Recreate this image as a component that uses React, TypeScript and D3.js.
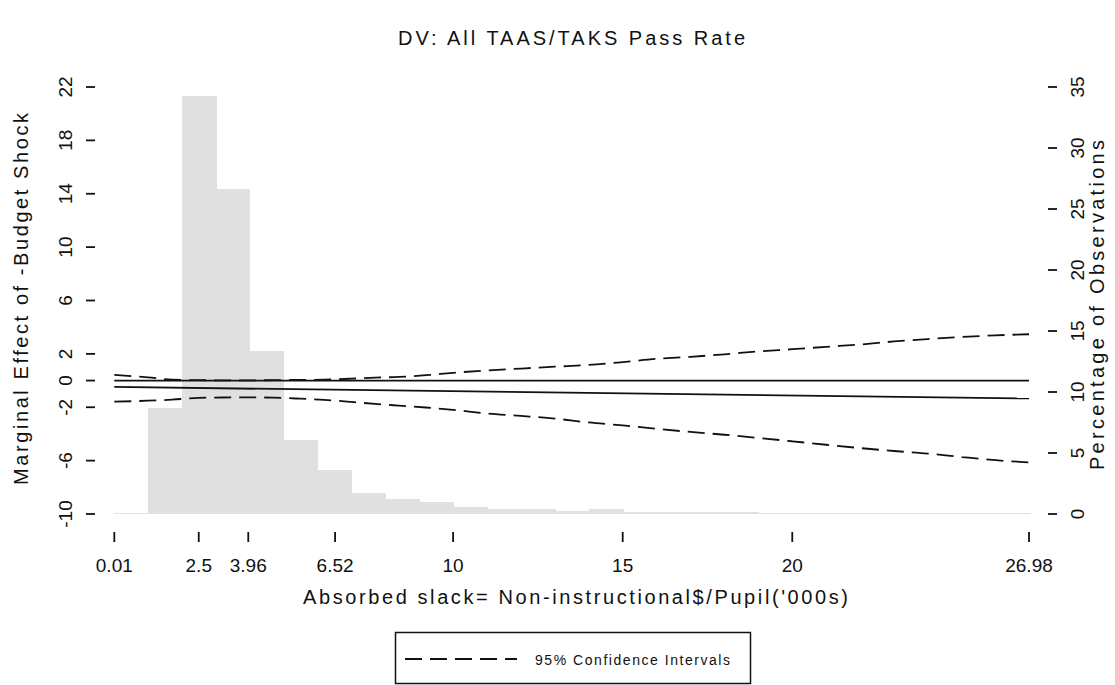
import React from "react";
import * as d3 from "d3";

// Histogram of the moderator (percent of observations per unit-wide bin, starting at 0.01)
const binStarts = [0.01, 1.01, 2.01, 3.01, 4.01, 5.01, 6.01, 7.01, 8.01, 9.01, 10.01, 11.01, 12.01, 13.01,
  14.01, 15.01, 16.01, 17.01, 18.01, 19.01, 20.01, 21.01, 22.01, 23.01, 24.01, 25.01, 26.01];
const binPercents = [0.1, 8.65, 34.3, 26.6, 13.4, 6.1, 3.6, 1.7, 1.2, 0.95, 0.6, 0.45, 0.45, 0.23,
  0.4, 0.2, 0.2, 0.2, 0.2, 0.08, 0.08, 0.08, 0.08, 0.08, 0.08, 0.08, 0.08];
const binWidth = 1;

// Marginal effect (linear in the moderator) at the ends of the observed range
const meX = [0.01, 26.98];
const meY = [-0.48, -1.34];

// 95% confidence bounds of the marginal effect
const ciX = [0.01, 1.0, 1.71, 2.5, 3.2, 3.95, 4.7, 5.5, 6.2, 7.0, 7.7, 8.4, 9.2, 10.0, 11.0, 12.0, 13.0,
  14.0, 15.0, 16.0, 17.0, 18.0, 19.0, 20.0, 21.0, 22.0, 23.0, 24.0, 25.0, 26.0, 26.98];
const ciUpper = [0.42, 0.24, 0.07, 0.03, 0.02, 0.02, 0.03, 0.05, 0.07, 0.14, 0.22, 0.27, 0.4, 0.58, 0.76,
  0.9, 1.04, 1.17, 1.38, 1.63, 1.78, 1.97, 2.18, 2.35, 2.53, 2.7, 2.93, 3.11, 3.27, 3.39, 3.47];
const ciLower = [-1.58, -1.51, -1.43, -1.3, -1.27, -1.26, -1.28, -1.36, -1.45, -1.6, -1.75, -1.88, -2.02,
  -2.19, -2.47, -2.65, -2.85, -3.14, -3.36, -3.62, -3.85, -4.06, -4.3, -4.55, -4.81, -5.06, -5.28, -5.47,
  -5.73, -5.97, -6.13];

const xTicks = [0.01, 2.5, 3.96, 6.52, 10, 15, 20, 26.98];
const xTickLabels = ["0.01", "2.5", "3.96", "6.52", "10", "15", "20", "26.98"];
const leftTicks = [-10, -6, -2, 0, 2, 6, 10, 14, 18, 22];
const rightTicks = [0, 5, 10, 15, 20, 25, 30, 35];

const titleText = "DV: All TAAS/TAKS Pass Rate";
const xTitle = "Absorbed slack= Non-instructional$/Pupil('000s)";
const leftTitle = "Marginal Effect of -Budget Shock";
const rightTitle = "Percentage of Observations";
const legendLabel = "95% Confidence Intervals";

const W = 1115;
const H = 685;
const FONT = "'Liberation Sans', Arial, sans-serif";
const INK = "#111";

export default function App() {
  const x = d3.scaleLinear().domain([0.01, 26.98]).range([114.3, 1029]);
  const yL = d3.scaleLinear().domain([-10, 22]).range([514, 87]);
  const yR = d3.scaleLinear().domain([0, 35]).range([514, 87]);

  const ciLine = d3
    .line<[number, number]>()
    .x((d) => x(d[0]))
    .y((d) => yL(d[1]))
    .curve(d3.curveMonotoneX);
  const upperPts = ciX.map((v, i) => [v, ciUpper[i]] as [number, number]);
  const lowerPts = ciX.map((v, i) => [v, ciLower[i]] as [number, number]);
  const mePts = meX.map((v, i) => [v, meY[i]] as [number, number]);
  const straight = d3
    .line<[number, number]>()
    .x((d) => x(d[0]))
    .y((d) => yL(d[1]));

  const dash = "17 8";
  const lw = 1.8;

  return (
    <svg
      width={W}
      height={H}
      style={{ position: "absolute", left: 0, top: 0, background: "#fff" }}
      fontFamily={FONT}
    >
      <rect x={0} y={0} width={W} height={H} fill="#fff" />

      {/* histogram on the right axis */}
      <g fill="#e0e0e0" shapeRendering="crispEdges">
        {binStarts.map((s, i) => (
          <rect
            key={i}
            x={x(s)}
            y={yR(binPercents[i])}
            width={x(s + binWidth) - x(s) + 0.5}
            height={yR(0) - yR(binPercents[i])}
          />
        ))}
      </g>

      {/* zero reference line */}
      <path d={straight([[0.01, 0], [26.98, 0]]) || ""} stroke={INK} strokeWidth={lw} fill="none" />
      {/* marginal effect */}
      <path d={straight(mePts) || ""} stroke={INK} strokeWidth={lw} fill="none" />
      {/* confidence bounds */}
      <path d={ciLine(upperPts) || ""} stroke={INK} strokeWidth={lw} strokeDasharray={dash} fill="none" />
      <path d={ciLine(lowerPts) || ""} stroke={INK} strokeWidth={lw} strokeDasharray={dash} fill="none" />

      {/* title */}
      <text x={571.5} y={45} fontSize={20} textAnchor="middle" fill={INK} textLength={347} lengthAdjust="spacing">
        {titleText}
      </text>

      {/* left axis */}
      <g>
        {leftTicks.map((t) => (
          <g key={t}>
            <line x1={86} x2={95} y1={yL(t)} y2={yL(t)} stroke={INK} strokeWidth={lw} />
            <text
              transform={`translate(72,${yL(t)}) rotate(-90)`}
              fontSize={19}
              textAnchor="middle"
              fill={INK}
            >
              {String(t)}
            </text>
          </g>
        ))}
        <text
          transform={`translate(28,299) rotate(-90)`}
          fontSize={20}
          textAnchor="middle"
          fill={INK}
          textLength={372}
          lengthAdjust="spacing"
        >
          {leftTitle}
        </text>
      </g>

      {/* right axis */}
      <g>
        {rightTicks.map((t) => (
          <g key={t}>
            <line x1={1048} x2={1057} y1={yR(t)} y2={yR(t)} stroke={INK} strokeWidth={lw} />
            <text
              transform={`translate(1084,${yR(t)}) rotate(-90)`}
              fontSize={19}
              textAnchor="middle"
              fill={INK}
            >
              {String(t)}
            </text>
          </g>
        ))}
        <text
          transform={`translate(1104,305) rotate(-90)`}
          fontSize={20}
          textAnchor="middle"
          fill={INK}
          textLength={330}
          lengthAdjust="spacing"
        >
          {rightTitle}
        </text>
      </g>

      {/* bottom axis */}
      <g>
        {xTicks.map((t, i) => (
          <g key={t}>
            <line x1={x(t)} x2={x(t)} y1={532} y2={542} stroke={INK} strokeWidth={lw} />
            <text x={x(t)} y={572} fontSize={19} textAnchor="middle" fill={INK}>
              {xTickLabels[i]}
            </text>
          </g>
        ))}
        <text x={575.5} y={604} fontSize={20} textAnchor="middle" fill={INK} textLength={545} lengthAdjust="spacing">
          {xTitle}
        </text>
      </g>

      {/* legend */}
      <g>
        <rect x={395.5} y={632.5} width={355} height={51} fill="#fff" stroke={INK} strokeWidth={1.5} />
        <line x1={405} x2={517} y1={659} y2={659} stroke={INK} strokeWidth={lw} strokeDasharray={dash} />
        <text x={535} y={665} fontSize={14} fill={INK} textLength={195} lengthAdjust="spacing">
          {legendLabel}
        </text>
      </g>
    </svg>
  );
}
